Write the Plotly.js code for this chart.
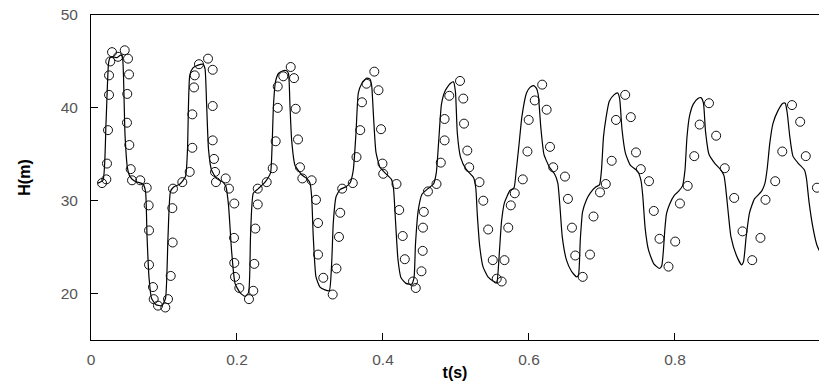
<!DOCTYPE html>
<html>
<head>
<meta charset="utf-8">
<script src="https://cdn.plot.ly/plotly-3.0.1.min.js"></script>
<style>html,body{margin:0;padding:0;overflow:hidden;background:#fff}</style>
</head>
<body>
<div id="chart" style="width:819px;height:386px"></div>
<script>
// Computed (simulated) pressure head, line
var tLine = [0.0096,0.0164,0.0205,0.0240,0.0260,0.0301,0.0356,0.0411,0.0432,0.0445,0.0466,0.0500,0.0534,0.0603,0.0712,0.0747,0.0767,0.0795,0.0829,0.0890,0.0973,0.1021,0.1055,0.1089,0.1137,0.1219,0.1295,0.1322,0.1353,0.1397,0.1466,0.1534,0.1562,0.1582,0.1610,0.1651,0.1719,0.1808,0.1849,0.1884,0.1925,0.1973,0.2041,0.2110,0.2158,0.2185,0.2223,0.2292,0.2384,0.2459,
0.2479,0.2500,0.2527,0.2568,0.2630,0.2678,0.2705,0.2726,0.2749,0.2795,0.2886,0.2955,0.3000,0.3023,0.3045,0.3082,0.3137,0.3205,0.3264,0.3297,0.3319,0.3356,0.3411,0.3493,0.3548,0.3593,0.3630,0.3662,0.3708,0.3777,0.3822,0.3845,0.3870,0.3904,0.3959,0.4027,0.4116,0.4144,0.4171,0.4205,0.4247,0.4315,0.4390,0.4425,0.4445,0.4482,0.4534,0.4616,0.4692,0.4730,0.4764,0.4801,0.4849,0.4918,0.4966,0.4993,0.5018,0.5062,0.5137,0.5240,0.5271,0.5292,0.5325,0.5370,0.5438,0.5521,0.5558,0.5589,0.5623,0.5664,0.5740,0.5795,0.5822,0.5863,0.5904,0.5966,0.6014,0.6062,0.6103,0.6127,0.6162,0.6205,0.6281,0.6349,0.6395,0.6425,0.6456,0.6514,0.6582,0.6651,0.6678,0.6703,0.6734,0.6788,0.6836,0.6918,0.6966,0.6993,0.7021,0.7055,0.7100,0.7164,0.7215,0.7242,0.7274,0.7322,0.7390,0.7486,0.7534,0.7559,0.7592,0.7637,0.7710,0.7788,0.7819,0.7842,0.7860,0.7884,0.7925,0.7993,0.8048,0.8103,0.8137,0.8164,0.8199,0.8251,0.8315,0.8356,0.8390,0.8418,0.8466,0.8548,0.8630,0.8671,0.8692,0.8726,0.8767,0.8842,0.8911,0.8938,0.8975,0.9021,0.9089,0.9185,0.9233,0.9264,0.9299,0.9342,0.9411,0.9479,0.9511,0.9537,0.9573,0.9616,0.9692,0.9774,0.9801,0.9836,0.9890,0.9945,0.9979];
var hLine = [31.9,32.2,38.2,44.8,45.4,45.5,45.4,45.7,45.4,43.5,37.1,33.5,32.6,32.1,31.8,31.0,26.3,21.7,19.5,18.8,18.7,19.5,26.1,31.0,31.5,31.8,32.6,35.5,43.5,44.3,44.6,44.7,44.2,40.8,35.5,33.3,32.4,32.0,31.5,29.5,24.7,21.1,20.1,19.7,20.1,26.1,30.8,31.3,32.0,33.0,
35.5,40.3,42.8,43.7,44.0,44.0,43.7,40.2,36.5,33.8,32.8,32.4,31.9,30.4,26.1,21.8,20.7,20.4,20.3,23.3,27.6,30.4,31.2,31.5,31.9,33.3,37.3,41.6,42.6,43.2,43.1,42.4,39.1,35.2,33.6,33.0,32.3,31.3,27.9,23.7,21.7,21.1,21.0,21.7,25.3,28.9,30.7,31.3,31.8,33.0,36.5,40.4,41.8,42.6,42.8,41.7,37.3,34.7,33.4,32.5,31.4,28.5,25.1,22.9,21.8,21.3,21.2,23.8,27.7,29.8,31.1,31.4,33.0,36.0,39.1,41.6,42.2,42.4,42.1,41.4,37.9,35.0,33.6,32.9,31.9,29.3,26.1,23.6,22.4,21.8,22.0,25.8,28.8,30.1,30.8,31.5,31.7,33.3,36.9,38.9,40.7,41.4,41.6,41.0,37.7,35.1,33.8,33.2,32.2,30.5,27.0,24.7,23.2,22.7,23.0,24.7,26.8,28.6,29.6,30.6,31.0,31.6,33.3,36.8,39.1,40.4,41.0,41.1,40.5,37.5,35.0,34.0,33.3,32.7,31.6,29.0,26.1,24.1,23.1,23.4,26.1,28.7,30.2,31.0,31.9,33.5,36.2,38.3,39.7,40.5,40.5,39.5,36.9,34.8,34.0,33.3,32.4,29.9,27.1,25.2,24.6];

// Measured pressure head, open circles
var tObs = [0.0151,0.0210,0.0219,0.0233,0.0247,0.0247,0.0264,0.0288,0.0370,0.0462,0.0507,0.0521,0.0497,0.0493,0.0525,0.0544,0.0562,0.0675,0.0763,0.0790,0.0795,0.0795,0.0849,0.0859,0.0918,0.1018,0.1055,0.1092,0.1119,0.1114,0.1123,0.1251,0.1352,0.1388,0.1388,0.1411,0.1421,0.1479,0.1603,0.1667,0.1667,0.1667,0.1685,0.1699,0.1712,0.1845,0.1890,0.1963,0.1959,0.1963,0.1973,0.2032,0.2164,0.2223,0.2237,0.2251,0.2284,0.2284,0.2407,0.2489,0.2530,0.2558,0.2558,0.2634,0.2736,0.2781,0.2804,0.2836,0.2863,0.2895,0.3023,0.3082,0.3110,0.3110,0.3182,0.3311,0.3363,0.3397,0.3414,0.3441,0.3586,0.3637,0.3688,0.3712,0.3774,0.3881,0.3938,0.3973,0.3993,0.4003,0.4185,0.4222,0.4270,0.4299,0.4411,0.4449,0.4527,0.4544,0.4548,0.4559,0.4616,0.4733,0.4792,0.4844,0.4844,0.4908,0.5055,0.5100,0.5110,0.5155,0.5181,0.5322,0.5374,0.5441,0.5504,0.5558,0.5626,0.5664,0.5716,0.5751,0.5805,0.5915,0.5979,0.5996,0.6079,0.6181,0.6242,0.6288,0.6332,0.6493,0.6534,0.6589,0.6634,0.6736,0.6836,0.6884,0.6973,0.7052,0.7133,0.7192,0.7318,0.7395,0.7466,0.7532,0.7644,0.7710,0.7788,0.7911,0.8003,0.8068,0.8174,0.8264,0.8338,0.8466,0.8564,0.8682,0.8811,0.8925,0.9058,0.9171,0.9240,0.9373,0.9470,0.9603,0.9715,0.9792,0.9945];
var hObs = [31.9,32.3,34.0,37.6,41.4,43.5,45.0,46.0,45.5,46.2,45.3,43.6,41.5,38.4,36.0,33.4,32.2,32.2,31.4,29.5,26.8,23.1,20.7,19.4,18.7,18.5,19.4,21.9,25.5,29.2,31.3,32.0,33.1,35.7,39.3,42.2,43.5,44.7,45.3,44.1,40.2,36.5,34.5,33.1,32.0,32.4,31.3,29.7,26.0,23.3,21.8,20.6,19.4,20.3,23.2,27.0,29.6,31.3,32.0,33.5,36.4,40.0,42.3,43.4,44.4,43.2,39.9,36.6,33.6,32.4,32.2,30.1,27.6,24.2,21.7,19.9,22.7,26.1,28.7,31.3,31.9,34.7,37.6,40.6,42.6,43.9,41.9,37.7,34.0,32.9,31.8,29.0,26.2,23.7,21.3,20.6,22.4,24.6,27.1,28.8,31.0,31.8,34.1,36.5,38.8,41.3,42.9,41.0,38.3,35.4,33.6,32.0,30.0,26.9,23.6,21.6,21.3,23.6,27.1,29.5,30.8,32.3,35.3,38.7,40.8,42.5,39.8,35.8,33.6,32.6,30.2,27.1,24.1,21.8,24.2,28.3,30.9,31.8,34.3,38.7,41.4,39.0,35.2,33.4,32.1,28.9,25.9,22.9,25.6,29.7,31.6,34.8,38.2,40.5,37.0,33.5,30.3,26.7,23.6,26.0,30.1,32.1,35.3,40.3,38.5,34.8,31.4];

var xTicks = [0, 0.2, 0.4, 0.6, 0.8];
var xTickText = ['0', '0.2', '0.4', '0.6', '0.8'];
var yTicks = [20, 30, 40, 50];
var yTickText = ['20', '30', '40', '50'];

var FONT = 'Arial, "Liberation Sans", sans-serif';

var traces = [
  {
    x: tLine, y: hLine, type: 'scatter', mode: 'lines',
    line: {color: '#000', width: 1.2, shape: 'spline', smoothing: 0.5},
    hoverinfo: 'skip', showlegend: false
  },
  {
    x: tObs, y: hObs, type: 'scatter', mode: 'markers',
    marker: {symbol: 'circle-open', size: 9, color: '#111', line: {width: 1, color: '#111'}},
    showlegend: false
  }
];

var layout = {
  width: 819, height: 386,
  margin: {l: 91, r: 0, t: 15, b: 46},
  paper_bgcolor: '#fff', plot_bgcolor: '#fff',
  showlegend: false,
  font: {family: FONT, color: '#333', size: 15},
  xaxis: {
    range: [0, 0.9973],
    tickvals: xTicks, ticktext: xTickText,
    ticks: 'inside', ticklen: 7, tickwidth: 1, tickcolor: '#000',
    showline: true, linecolor: '#000', linewidth: 1, mirror: true,
    showgrid: false, zeroline: false,
    tickfont: {family: FONT, size: 15.5, color: '#555'},
    ticklabelstandoff: 5,
    title: {text: 't(s)', font: {family: FONT, size: 16, color: '#000', weight: 'bold'}, standoff: 0},
    automargin: false
  },
  yaxis: {
    range: [15, 50],
    tickvals: yTicks, ticktext: yTickText,
    ticks: 'inside', ticklen: 7, tickwidth: 1, tickcolor: '#000',
    showline: true, linecolor: '#000', linewidth: 1, mirror: false,
    showgrid: false, zeroline: false,
    tickfont: {family: FONT, size: 15.5, color: '#555'},
    ticklabelstandoff: 9,
    title: {text: 'H(m)', font: {family: FONT, size: 16, color: '#000', weight: 'bold'}, standoff: 26},
    automargin: false
  }
};

Plotly.newPlot('chart', traces, layout, {displayModeBar: false, staticPlot: true});
</script>
</body>
</html>
